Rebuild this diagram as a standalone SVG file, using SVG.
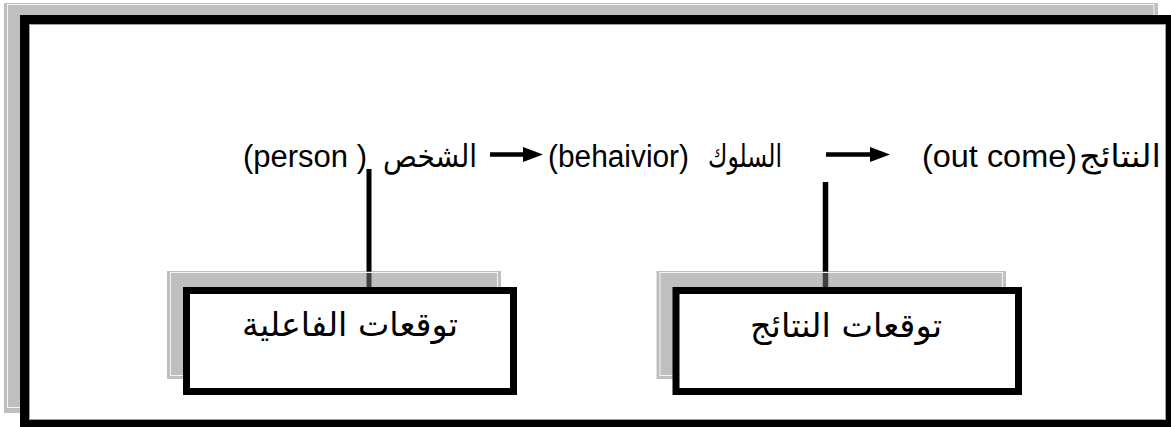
<svg xmlns="http://www.w3.org/2000/svg" width="1171" height="427" viewBox="0 0 1171 427">
<style>
.shadow{fill:#808080;fill-opacity:.5}
.inset{fill:none;stroke:#f4f4f4;stroke-width:1}
.box{fill:#fff;stroke:#000;stroke-width:7}
.lat{font-family:"Liberation Sans",Arial,sans-serif;font-size:31px;fill:#000}
.ar{font-family:"DejaVu Sans","Noto Sans",sans-serif;font-size:31px;fill:#000}
.arb{font-family:"DejaVu Sans","Noto Sans",sans-serif;font-size:33px;fill:#000}
.conn{stroke:#000;fill:none}
</style>
<defs>
<marker id="ah" markerUnits="userSpaceOnUse" markerWidth="20" markerHeight="15" refX="13" refY="7.5" orient="auto">
<path d="M0,0 L20,7.5 L0,15 z" fill="#000"/>
</marker>
</defs>
<rect width="1171" height="427" fill="#fff"/>
<g id="frame">
<rect class="shadow" x="4" y="3" width="1154" height="410"/>
<rect class="inset" x="7.5" y="4.5" width="1146.5" height="403"/>
<rect x="24.5" y="19.5" width="1146" height="405" fill="#fff" stroke="#000" stroke-width="9"/>
<rect x="29.5" y="24.5" width="1136" height="395" fill="none" stroke="#a0a0a0" stroke-width="1"/>
</g>
<g id="connectors">
<line class="conn" x1="490" y1="154.5" x2="536" y2="154.5" stroke-width="4.5" marker-end="url(#ah)"/>
<line class="conn" x1="826" y1="154.5" x2="883" y2="154.5" stroke-width="4.5" marker-end="url(#ah)"/>
<line class="conn" x1="369" y1="169" x2="369" y2="290" stroke-width="5"/>
<line class="conn" x1="825.5" y1="182" x2="825.5" y2="290" stroke-width="5.5"/>
</g>
<g id="node-person">
<text class="lat" x="243" y="167" textLength="124" lengthAdjust="spacingAndGlyphs">(person )</text>
<text class="ar" x="430" y="167" text-anchor="middle" textLength="94" lengthAdjust="spacingAndGlyphs">الشخص</text>
</g>
<g id="node-behavior">
<text class="lat" x="548" y="167" textLength="141" lengthAdjust="spacingAndGlyphs">(behaivior)</text>
<text class="ar" x="745" y="167" text-anchor="middle" textLength="74" lengthAdjust="spacingAndGlyphs">السلوك</text>
</g>
<g id="node-outcome">
<text class="lat" x="922" y="167" textLength="155" lengthAdjust="spacingAndGlyphs">(out come)</text>
<text class="ar" x="1120" y="167" text-anchor="middle" textLength="82" lengthAdjust="spacingAndGlyphs">النتائج</text>
</g>
<g id="node-agency-expectations">
<rect class="shadow" x="167" y="271" width="334" height="108"/>
<rect class="inset" x="170.5" y="272.5" width="327" height="103"/>
<rect class="box" x="186.5" y="290.5" width="327" height="101"/>
<text class="arb" x="350" y="336" text-anchor="middle" textLength="216" lengthAdjust="spacingAndGlyphs">توقعات الفاعلية</text>
</g>
<g id="node-outcome-expectations">
<rect class="shadow" x="656.5" y="271" width="349.5" height="108"/>
<rect class="inset" x="660" y="272.5" width="342.5" height="103"/>
<rect class="box" x="676" y="290.5" width="342.5" height="101"/>
<text class="arb" x="846" y="337" text-anchor="middle" textLength="192" lengthAdjust="spacingAndGlyphs">توقعات النتائج</text>
</g>
</svg>
